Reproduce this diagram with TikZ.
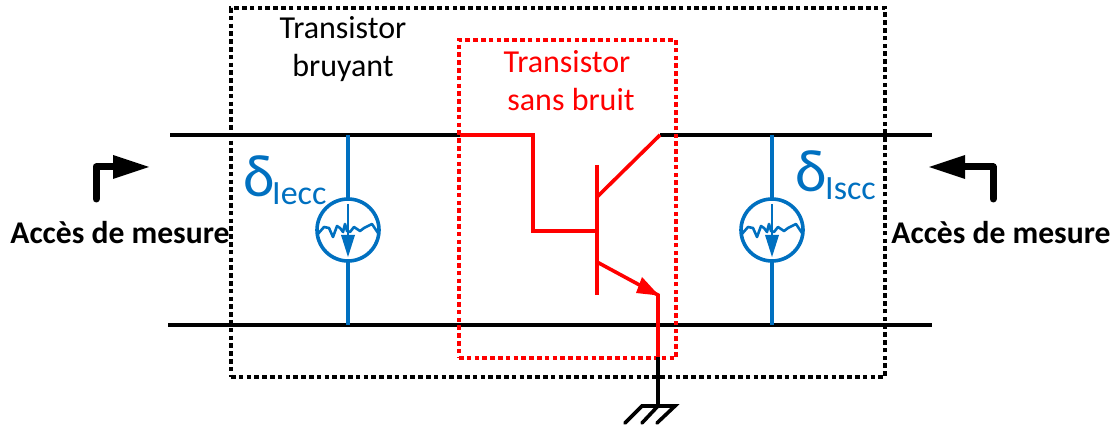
\documentclass[tikz,border=0pt]{standalone}
\usepackage{fontspec}
\setmainfont{Carlito}
\definecolor{bl}{HTML}{0070C0}
\tikzset{
  x=1pt,y=-1pt,
  wire/.style={line width=3.6pt,black},
  redwire/.style={line width=3.6pt,red,line join=miter},
  bluewire/.style={line width=3.6pt,bl},
  blackbox/.style={draw=black,line width=3.15pt,dash pattern=on 4.6pt off 3.2pt},
  redbox/.style={draw=red,line width=3.15pt,dash pattern=on 4.6pt off 3.2pt},
  lab/.style={font=\fontsize{32}{38}\selectfont,align=center,inner sep=0pt},
  meas/.style={font=\fontsize{31.6}{38}\selectfont\bfseries,inner sep=0pt},
  dlt/.style={text=bl,inner sep=0pt,anchor=base west},
  src/.style={circle,draw=bl,line width=3.6pt,minimum size=62pt,inner sep=0pt,fill=white},
}
\begin{document}
\begin{tikzpicture}
\useasboundingbox (0,0) rectangle (1118,427);
% named points
\coordinate (TL) at (170,135); \coordinate (TM) at (533,135); \coordinate (TC) at (660,135); \coordinate (TR) at (932,135);
\coordinate (BL) at (168,325); \coordinate (BR) at (932,325);
\coordinate (Bs) at (533,231); \coordinate (Bb) at (597,231);
\coordinate (Bt) at (597,165); \coordinate (Bo) at (597,295);
\coordinate (Cj) at (597,197); \coordinate (Ej) at (597,262); \coordinate (Ee) at (658,295);
\coordinate (Rb) at (658,357); \coordinate (G) at (658,406);
\coordinate (BoxTR) at (460,135);
% wires
\draw[wire] (TL) -- (BoxTR);
\draw[wire] (TC) -- (TR);
\draw[wire] (BL) -- (BR);
% dashed boxes
\node[blackbox,inner sep=0pt,minimum width=654pt,minimum height=369pt] (outer) at (558,192.5) {};
\node[redbox,inner sep=0pt,minimum width=217pt,minimum height=318pt] (inner) at (567.5,199) {};
% transistor
\draw[redwire] (BoxTR) -- (TM) -- (Bs) -- (Bb);
\draw[redwire] (Bt) -- (Bo);
\draw[redwire] (Cj) -- (TC);
\draw[redwire] (Ej) -- (Ee) -- (Rb);
\fill[red] (Ee) ++(1,0.5) -- (642,277) -- (636,293) -- cycle;
\draw[wire] (Rb) -- (G);
% ground
\coordinate (G1) at (642,406); \coordinate (G2) at (675,406);
\coordinate (G1b) at (625,423); \coordinate (G2b) at (642,423); \coordinate (G3b) at (657,423);
\draw[wire,line cap=round] (G1b) -- (G1) -- (G2) -- (G3b);
\draw[wire,line cap=round] (G2b) -- (G);
% sources
\foreach \n/\cx in {l/348,r/772}{
  \coordinate (\n t) at (\cx,135); \coordinate (\n b) at (\cx,325);
  \draw[bluewire] (\n t) -- (\n b);
  \node[src] (s\n) at (\cx,230) {};
  \begin{scope}[shift={(s\n.center)}]
    \draw[bl,line width=2.6pt,line join=round]
      (-31,5) -- (-24,-3) -- (-19,-2) -- (-15,7) -- (-11,-4) -- (-8,-2) -- (-5,2) -- (-3,-6) -- (-1,1) -- (2,2) -- (6,-3) -- (12,1) -- (16,-2) -- (24,-6) -- (30,3);
    \draw[bl,line width=2.6pt] (0,-26) -- (0,5);
    \fill[bl] (0,27) -- (-7,5) -- (7,5) -- cycle;
  \end{scope}
}
% labels
\node[lab] (tb) at (343,49) {Transistor\\bruyant};
\node[lab,text=red] (ts) at (567,81) {Transistor\\\hspace{8pt}sans bruit};
\node[dlt,font=\fontsize{60}{60}\selectfont] (d1) at (243,197) {δ};
\node[dlt,font=\fontsize{34}{34}\selectfont] (d1s) at (272,205) {Iecc};
\node[dlt,font=\fontsize{60}{60}\selectfont] (d2) at (795,192) {δ};
\node[dlt,font=\fontsize{34}{34}\selectfont] (d2s) at (825,200) {Iscc};
\node[meas] (m1) at (120,233) {Accès de mesure};
\node[meas] (m2) at (1001,233) {Accès de mesure};
% access arrows
\coordinate (a1) at (96,199); \coordinate (a2) at (96,167); \coordinate (a3) at (115,167);
\draw[line width=7pt,line cap=round,line join=round] (a1) -- (a2) -- (a3);
\fill (149,167) -- (113,155) -- (113,179) -- cycle;
\coordinate (b1) at (993,199); \coordinate (b2) at (993,167); \coordinate (b3) at (964,167);
\draw[line width=7pt,line cap=round,line join=round] (b1) -- (b2) -- (b3);
\fill (929,167) -- (965,155) -- (965,179) -- cycle;
\end{tikzpicture}
\end{document}
